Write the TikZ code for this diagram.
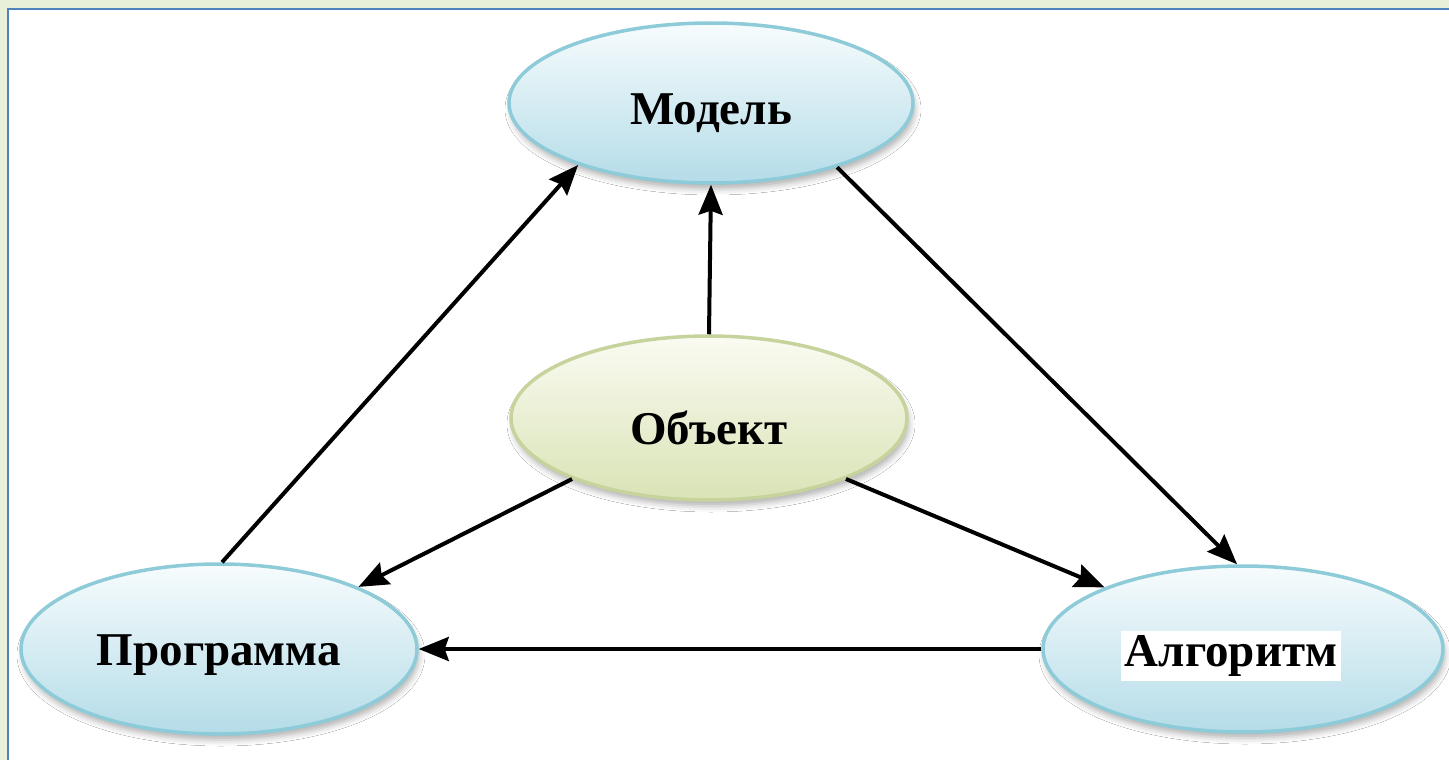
\documentclass[tikz,border=0pt]{standalone}
\usepackage{fontspec}
\setmainfont{Liberation Serif}
\usetikzlibrary{arrows.meta,shapes.geometric,shadows.blur}
\definecolor{framegreen}{HTML}{E8F0DA}
\definecolor{frameblue}{HTML}{4F81BD}
\definecolor{bluetop}{HTML}{F7FCFD}
\definecolor{bluebot}{HTML}{B4DCE8}
\definecolor{blueedge}{HTML}{8ECBD9}
\definecolor{greentop}{HTML}{FAFBF2}
\definecolor{greenbot}{HTML}{D9E3B5}
\definecolor{greenedge}{HTML}{C6D39C}
\tikzset{
  bubble/.style={ellipse, draw=blueedge, line width=3.5pt, top color=bluetop,
    bottom color=bluebot, inner sep=0pt,
    blur shadow={shadow xshift=2pt, shadow yshift=-6pt, shadow blur radius=6pt, shadow opacity=30}},
  objbubble/.style={bubble, draw=greenedge, top color=greentop, bottom color=greenbot},
  word/.style={font=\fontsize{47}{52}\selectfont\bfseries, inner sep=2pt},
  link/.style={line width=4pt, -{Stealth[length=30pt,width=24pt,inset=4pt]}},
}
\begin{document}
\begin{tikzpicture}[x=1pt,y=-1pt]
  \useasboundingbox (0,0) rectangle (1449,760);
  % page frame
  \fill[framegreen] (0,0) rectangle (1449,760);
  \fill[frameblue] (7,8) rectangle (1449,760);
  \fill[white] (9,10) rectangle (1449,760);

  % ellipses
  \node[bubble, minimum width=404pt, minimum height=160pt] (model) at (711,103) {};
  \node[objbubble, minimum width=396pt, minimum height=164pt] (obj) at (709,418) {};
  \node[bubble, minimum width=396pt, minimum height=170pt] (prog) at (219,649) {};
  \node[bubble, minimum width=400pt, minimum height=166pt] (algo) at (1243,649) {};

  % labels
  \node[word] (modeltxt) at ([yshift=-10pt]model.center) {Модель};
  \node[word] (objtxt) at ([yshift=-10pt]obj.center) {Объект};
  \node[word] (progtxt) at ([yshift=-6pt]prog.center) {Программа};
  \node[word, fill=white, inner xsep=4pt, minimum height=50pt] (algotxt) at ([yshift=-7pt,xshift=-12pt]algo.center) {Алгоритм};

  % connectors
  \draw[link] (prog.88) -- (model.205);
  \draw[link] (obj.north) -- (model.south);
  \draw[link] (model.333) -- (algo.94);
  \draw[link] (obj.204) -- (prog.24);
  \draw[link] (obj.336) -- (algo.156);
  \draw[link] (algo.west) -- (prog.east);
\end{tikzpicture}
\end{document}
